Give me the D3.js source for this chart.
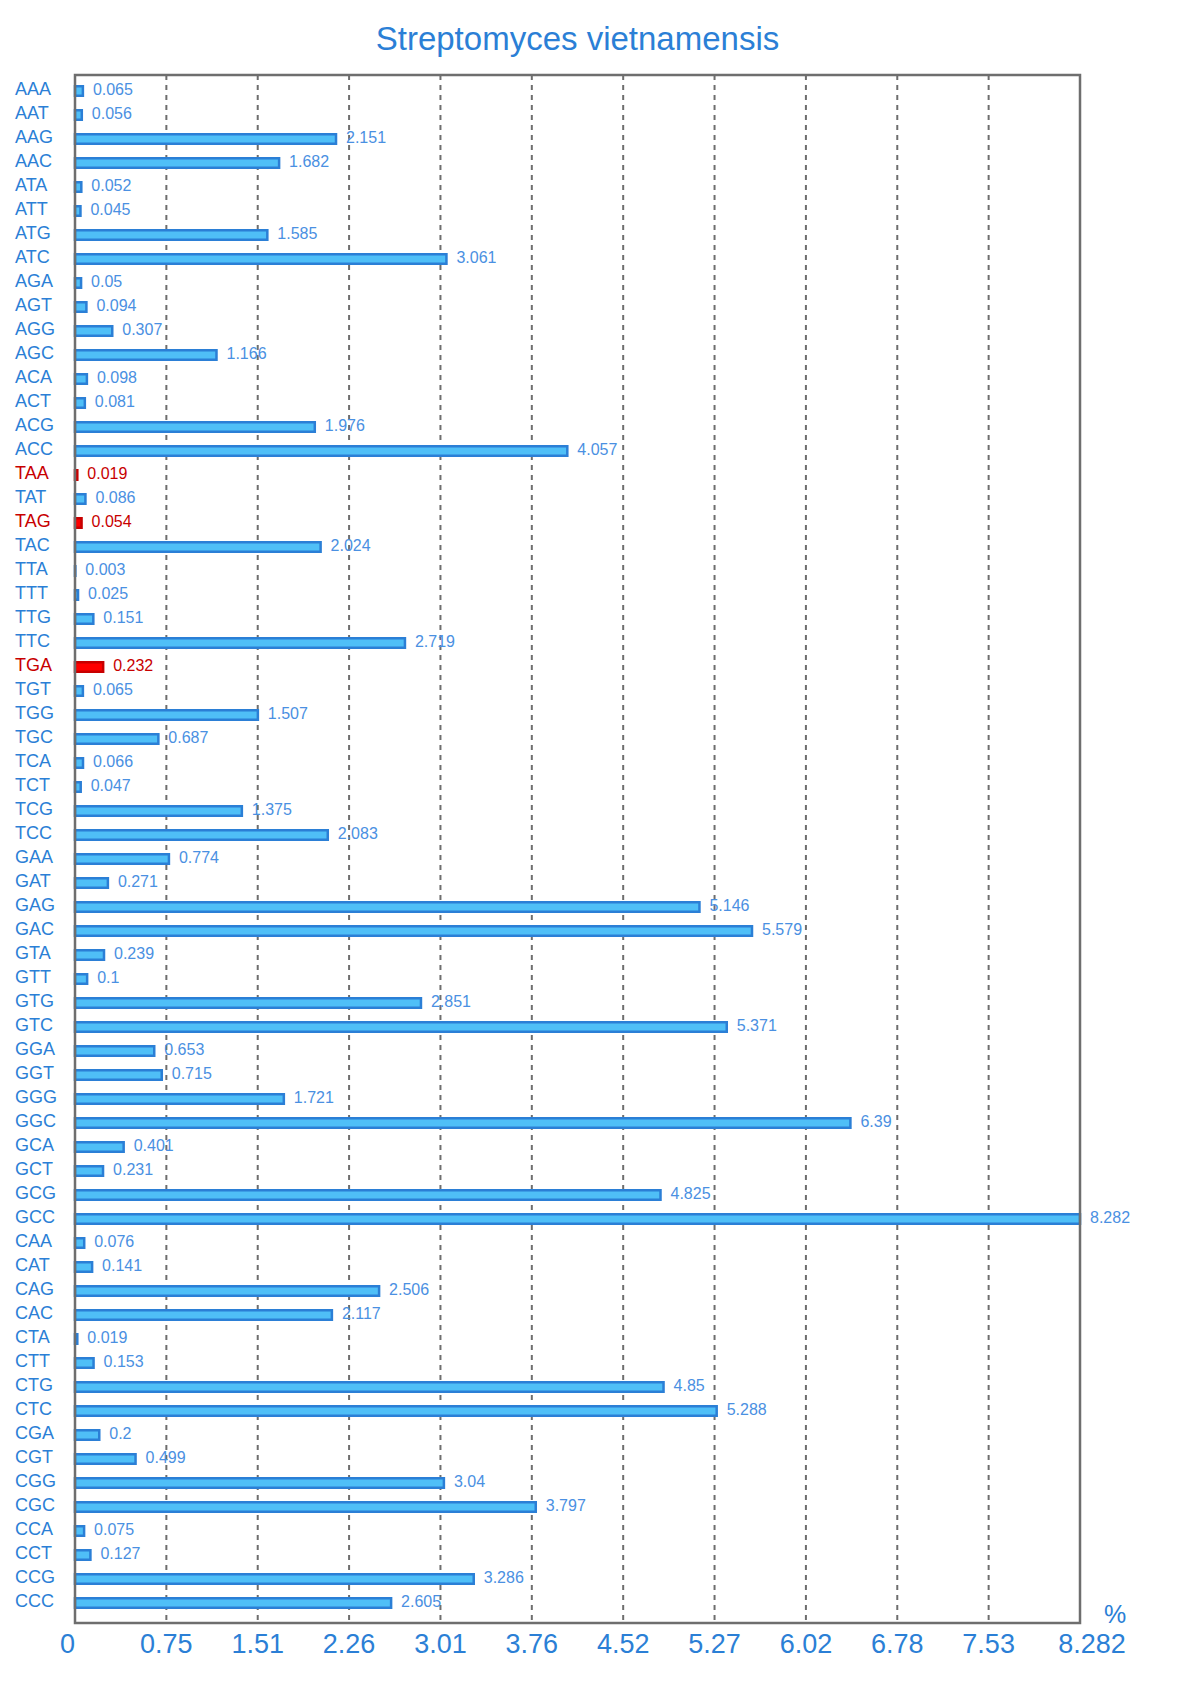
<!DOCTYPE html>
<html>
<head>
<meta charset="utf-8">
<script src="https://cdn.jsdelivr.net/npm/d3@7"></script>
<style>
  html, body { margin: 0; padding: 0; background: #ffffff; }
  svg { display: block; }
</style>
</head>
<body>
<div id="chart"></div>
<script>
const title = "Streptomyces vietnamensis";
const codons = ["AAA","AAT","AAG","AAC","ATA","ATT","ATG","ATC","AGA","AGT","AGG","AGC","ACA","ACT","ACG","ACC",
  "TAA","TAT","TAG","TAC","TTA","TTT","TTG","TTC","TGA","TGT","TGG","TGC","TCA","TCT","TCG","TCC",
  "GAA","GAT","GAG","GAC","GTA","GTT","GTG","GTC","GGA","GGT","GGG","GGC","GCA","GCT","GCG","GCC",
  "CAA","CAT","CAG","CAC","CTA","CTT","CTG","CTC","CGA","CGT","CGG","CGC","CCA","CCT","CCG","CCC"];
const values = [0.065,0.056,2.151,1.682,0.052,0.045,1.585,3.061,0.05,0.094,0.307,1.166,0.098,0.081,1.976,4.057,
  0.019,0.086,0.054,2.024,0.003,0.025,0.151,2.719,0.232,0.065,1.507,0.687,0.066,0.047,1.375,2.083,
  0.774,0.271,5.146,5.579,0.239,0.1,2.851,5.371,0.653,0.715,1.721,6.39,0.401,0.231,4.825,8.282,
  0.076,0.141,2.506,2.117,0.019,0.153,4.85,5.288,0.2,0.499,3.04,3.797,0.075,0.127,3.286,2.605];
const stopCodons = ["TAA","TAG","TGA"];
const tickValues = [0,0.7529,1.5058,2.2587,3.0116,3.7645,4.5175,5.2704,6.0233,6.7762,7.5291,8.282];
const tickLabels = ["0","0.75","1.51","2.26","3.01","3.76","4.52","5.27","6.02","6.78","7.53","8.282"];
const unitLabel = "%";

const W = 1200, H = 1698;
const frame = {left: 75, right: 1080, top: 75, bottom: 1623};
const blue = "#2b7fd6", lightBlue = "#4fbff7", red = "#ff0000", darkRed = "#c80000", grey = "#6e6e6e";
const font = "'Liberation Sans', Arial, sans-serif";

const svg = d3.select("#chart").append("svg").attr("width", W).attr("height", H);

const x = d3.scaleLinear().domain([0, d3.max(values)]).range([frame.left, frame.right]);
const y = d3.scaleBand().domain(codons).range([79, 1615]).padding(0);

const data = codons.map((c, i) => ({codon: c, value: values[i], stop: stopCodons.includes(c)}));

// title
svg.append("text")
  .attr("x", (frame.left + frame.right) / 2).attr("y", 50)
  .attr("text-anchor", "middle")
  .attr("font-family", font).attr("font-size", 33)
  .attr("fill", blue).text(title);

// grid lines
svg.append("g").selectAll("line")
  .data(tickValues.slice(1, -1))
  .join("line")
  .attr("x1", d => x(d)).attr("x2", d => x(d))
  .attr("y1", frame.top).attr("y2", frame.bottom)
  .attr("stroke", grey).attr("stroke-width", 2)
  .attr("stroke-dasharray", "5,5");

// bars
const barH = 9.5;
svg.append("g").selectAll("rect")
  .data(data)
  .join("rect")
  .attr("x", x(0))
  .attr("y", d => y(d.codon) + y.bandwidth() / 2 - barH / 2)
  .attr("width", d => x(d.value) - x(0))
  .attr("height", barH)
  .attr("fill", d => d.stop ? red : lightBlue)
  .attr("stroke", d => d.stop ? darkRed : blue)
  .attr("stroke-width", 2.5);

// value labels
svg.append("g").selectAll("text")
  .data(data)
  .join("text")
  .attr("x", d => x(d.value) + 10)
  .attr("y", d => y(d.codon) + y.bandwidth() / 2 + 4)
  .attr("font-family", font).attr("font-size", 16)
  .attr("fill", d => d.stop ? darkRed : "#4a90e2")
  .text(d => d.value);

// category labels
svg.append("g").selectAll("text")
  .data(data)
  .join("text")
  .attr("x", 15)
  .attr("y", d => y(d.codon) + y.bandwidth() / 2 + 4)
  .attr("font-family", font).attr("font-size", 18)
  .attr("fill", d => d.stop ? darkRed : blue)
  .text(d => d.codon);

// frame
svg.append("rect")
  .attr("x", frame.left).attr("y", frame.top)
  .attr("width", frame.right - frame.left).attr("height", frame.bottom - frame.top)
  .attr("fill", "none").attr("stroke", grey).attr("stroke-width", 2.5);

// x tick labels
svg.append("g").selectAll("text")
  .data(tickValues)
  .join("text")
  .attr("x", (d, i) => x(d) + (i === tickValues.length - 1 ? 12 : 0))
  .attr("y", 1653)
  .attr("text-anchor", (d, i) => i === 0 ? "end" : "middle")
  .attr("font-family", font).attr("font-size", 27)
  .attr("fill", blue)
  .text((d, i) => tickLabels[i]);

// unit
svg.append("text")
  .attr("x", 1115).attr("y", 1623)
  .attr("text-anchor", "middle")
  .attr("font-family", font).attr("font-size", 25)
  .attr("fill", blue).text(unitLabel);
</script>
</body>
</html>
